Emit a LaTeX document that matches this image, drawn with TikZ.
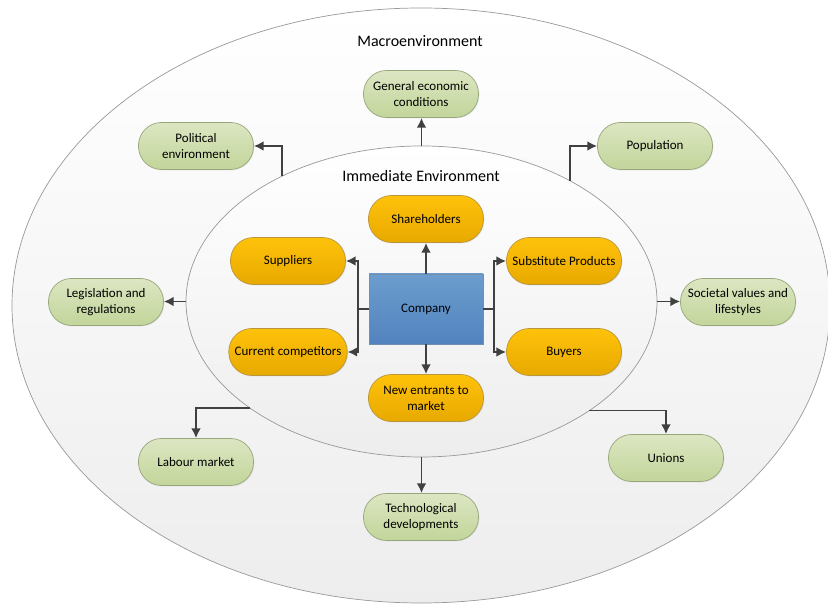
\documentclass[tikz,border=0pt]{standalone}
\usepackage{fontspec}
\setmainfont{Carlito}
\usetikzlibrary{shapes.geometric,arrows.meta,shadows}
\definecolor{greentop}{HTML}{DCE6C2}
\definecolor{greenbot}{HTML}{C2D59A}
\definecolor{greenline}{HTML}{97A67A}
\definecolor{orangetop}{HTML}{FFC20A}
\definecolor{orangebot}{HTML}{E8A900}
\definecolor{orangeline}{HTML}{B8963E}
\definecolor{bluetop}{HTML}{6C9DCD}
\definecolor{bluebot}{HTML}{5283BF}
\definecolor{blueline}{HTML}{6F8FB3}
\definecolor{arrowgray}{HTML}{404040}

\begin{document}
\begin{tikzpicture}[scale=1]
 \tikzstyle{envell}=[draw=black!40, thin, top color=white, bottom color=black!7]
 \tikzstyle{macro}=[rectangle, rounded corners=0.46cm, draw=greenline, top color=greentop, bottom color=greenbot,
   minimum width=2.3cm, minimum height=0.94cm, align=center, font=\fontsize{7.4}{9}\selectfont,
   drop shadow={opacity=0.15, shadow xshift=0.5pt, shadow yshift=-0.5pt}]
 \tikzstyle{micro}=[macro, draw=orangeline, top color=orangetop, bottom color=orangebot]
 \tikzstyle{comp}=[rectangle, draw=blueline, top color=bluetop, bottom color=bluebot,
   minimum width=2.28cm, minimum height=1.4cm, font=\fontsize{7.4}{9}\selectfont,
   drop shadow={opacity=0.15, shadow xshift=0.5pt, shadow yshift=-0.5pt}]
 \tikzstyle{envtitle}=[font=\fontsize{9.1}{11}\selectfont]
 \tikzstyle{estun}=[->, >={Latex[length=5.5pt,width=5.5pt]}, line width=1.1pt, draw=arrowgray]
 \useasboundingbox (0,0) rectangle (16.56,12.10);
 %
 \draw[envell] (8.42,5.99) ellipse (8.18 and 5.95);
 \node[envell, ellipse, minimum width=9.42cm, minimum height=6.22cm, inner sep=0pt, outer sep=0pt] (inner) at (8.43,6.07) {};
 \node[envtitle] (macrotitle) at (8.40,11.28) {Macroenvironment};
 \node[envtitle] (immtitle) at (8.42,8.58) {Immediate Environment};
 %
 \node[macro] (Gen) at (8.42,10.22) {General economic\\conditions};
 \node[macro] (Pol) at (3.92,9.18) {Political\\environment};
 \node[macro] (Pop) at (13.10,9.18) {Population};
 \node[macro] (Leg) at (2.12,6.06) {Legislation and\\regulations};
 \node[macro] (Soc) at (14.76,6.06) {Societal values and\\lifestyles};
 \node[macro] (Lab) at (3.92,2.86) {Labour market};
 \node[macro] (Uni) at (13.32,2.94) {Unions};
 \node[macro] (Tec) at (8.42,1.76) {Technological\\developments};
 %
 \node[micro] (Sha) at (8.52,7.72) {Shareholders};
 \node[micro] (Sup) at (5.76,6.88) {Suppliers};
 \node[micro] (Sub) at (11.28,6.88) {Substitute Products};
 \node[comp] (Comp) at (8.52,5.92) {Company};
 \node[micro] (Cur) at (5.76,5.06) {Current competitors};
 \node[micro] (Buy) at (11.28,5.06) {Buyers};
 \node[micro] (New) at (8.52,4.14) {New entrants to\\market};
 %%
 \draw[estun] (Comp)--(Sha);
 \draw[estun] (Comp)--(New);
 \draw[estun, -] (Comp.west)-- ++(-0.22,0) coordinate (CL);
 \draw[estun, -] (Comp.east)-- ++(0.22,0) coordinate (CR);
 \draw[estun] (CL) |- (Sup);
 \draw[estun] (CL) |- (Cur);
 \draw[estun] (CR) |- (Sub);
 \draw[estun] (CR) |- (Buy);
 %%
 \draw[estun] (inner.north)--(inner.north |- Gen.south);
 \draw[estun] (inner.138) |- (Pol);
 \draw[estun] (inner.39) |- (Pop);
 \draw[estun] (inner.west)--(inner.west -| Leg.east);
 \draw[estun] (inner.east)--(inner.east -| Soc.west);
 \draw[estun] (inner.212) -| (Lab);
 \draw[estun] (inner.327) -| (Uni);
 \draw[estun] (inner.south)--(inner.south |- Tec.north);
\end{tikzpicture}
\end{document}
